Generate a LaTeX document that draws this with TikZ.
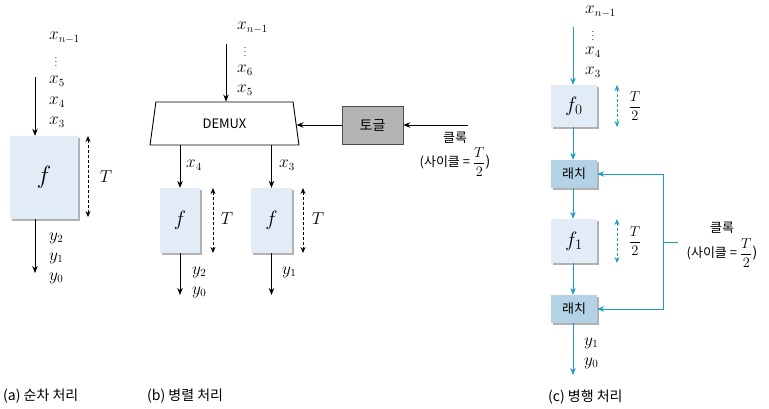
\documentclass[tikz,border=0pt]{standalone}
\usepackage{amsmath}
\usepackage{fontspec}
\newfontfamily\kr{Noto Sans CJK KR}
\setsansfont{Noto Sans CJK KR}
\usetikzlibrary{arrows.meta,shapes.geometric,shadows}
\definecolor{fblue}{HTML}{E1ECF6}
\definecolor{lblue}{HTML}{B3D2E6}
\definecolor{tgray}{HTML}{B4B4B4}
\definecolor{teal2}{HTML}{1F9CC4}
\begin{document}
\begin{tikzpicture}[x=1pt,y=-1pt,
  arr/.style={-{Stealth[length=7pt,width=5.5pt]}, line width=0.8pt},
  darr/.style={{Stealth[length=6pt,width=5pt]}-{Stealth[length=6pt,width=5pt]}, dash pattern=on 3pt off 2pt, line width=0.8pt},
  shad/.style={drop shadow={shadow xshift=1.5pt, shadow yshift=-1.5pt, opacity=0.3, fill=black}},
  fbox/.style={rectangle, fill=fblue, shad, inner sep=0pt},
  latchbox/.style={rectangle, fill=lblue, shad, inner sep=0pt, minimum width=46pt, minimum height=28pt, font=\kr\fontsize{13}{15}\selectfont},
  lbl/.style={anchor=west, inner sep=0pt, font=\fontsize{16}{18}\selectfont},
  dots/.style={inner sep=0pt, font=\fontsize{10}{11}\selectfont},
  tlabel/.style={inner sep=0pt, font=\fontsize{16}{18}\selectfont},
  hlabel/.style={inner sep=0pt, font=\fontsize{14}{16}\selectfont},
  krt/.style={inner sep=0pt, font=\kr\fontsize{13}{15}\selectfont},
  captxt/.style={anchor=west, inner sep=0pt, font=\kr\fontsize{14}{16}\selectfont},
  tealc/.style={teal2}
]
\useasboundingbox (0,0) rectangle (769,408);

% ---------- (a) ----------
\node[fbox, minimum width=68pt, minimum height=83pt, font=\fontsize{26}{28}\selectfont] (fa) at (44,177.5) {$f$};
\coordinate (ina) at (35,77);
\coordinate (outa) at (35,273);
\draw[arr] (ina) -- (ina |- fa.north);
\draw[arr] (outa |- fa.south) -- (outa);
\node[lbl] (a1) at (49,38) {$x_{n-1}$};
\node[dots] (a2) at (56,59) {$\vdots$};
\node[lbl] (a3) at (49,81) {$x_5$};
\node[lbl] (a4) at (49,102) {$x_4$};
\node[lbl] (a5) at (49,122) {$x_3$};
\node[lbl] (a6) at (49,238) {$y_2$};
\node[lbl] (a7) at (49,258) {$y_1$};
\node[lbl] (a8) at (49,278) {$y_0$};
\coordinate (ta1) at (88,136);
\coordinate (ta2) at (88,217);
\draw[darr] (ta1) -- (ta2);
\node[tlabel] (tA) at (106,177) {$T$};

% ---------- (b) ----------
\node[trapezium, draw, line width=0.9pt, trapezium angle=79, trapezium stretches=true,
      minimum width=149pt, minimum height=43pt, inner sep=0pt,
      font=\sffamily\fontsize{13}{15}\selectfont] (demux) at (224.5,123.5) {DEMUX};
\node[rectangle, draw=black!70, fill=tgray, line width=0.6pt, minimum width=61pt, minimum height=38pt,
      font=\kr\fontsize{14}{16}\selectfont] (tog) at (372.5,125) {토글};
\coordinate (clkb) at (468,125);
\draw[arr] (clkb) -- (tog.east);
\draw[arr] (tog.west) -- (tog.west -| demux.east);
\node[krt] (kb1) at (455,138) {클록};
\node[krt] (kb2) at (455,162) {(사이클 = \fontsize{14}{16}\selectfont$\dfrac{T}{2}$)};
\coordinate (inb) at (226,44);
\draw[arr] (inb) -- (inb |- demux.north);
\node[lbl] (b1) at (237,28) {$x_{n-1}$};
\node[dots] (b2) at (245,49) {$\vdots$};
\node[lbl] (b3) at (237,70) {$x_6$};
\node[lbl] (b4) at (237,90) {$x_5$};
\node[fbox, minimum width=40pt, minimum height=65pt, font=\fontsize{22}{24}\selectfont] (fb1) at (180,220.5) {$f$};
\node[fbox, minimum width=41pt, minimum height=65pt, font=\fontsize{22}{24}\selectfont] (fb2) at (271.5,220.5) {$f$};
\draw[arr] (fb1.north |- demux.south) -- (fb1.north);
\draw[arr] (fb2.north |- demux.south) -- (fb2.north);
\node[lbl] (b5) at (186,165) {$x_4$};
\node[lbl] (b6) at (279,165) {$x_3$};
\coordinate (tb1) at (213,188);
\coordinate (tb2) at (213,253);
\coordinate (tb3) at (303,188);
\coordinate (tb4) at (303,253);
\draw[darr] (tb1) -- (tb2);
\draw[darr] (tb3) -- (tb4);
\node[tlabel] (tB1) at (227,219) {$T$};
\node[tlabel] (tB2) at (318,219) {$T$};
\coordinate (ob1) at (180,295);
\coordinate (ob2) at (271.5,295);
\draw[arr] (fb1.south) -- (ob1);
\draw[arr] (fb2.south) -- (ob2);
\node[lbl] (b7) at (192,272) {$y_2$};
\node[lbl] (b8) at (192,292) {$y_0$};
\node[lbl] (b9) at (282,272) {$y_1$};

% ---------- (c) ----------
\node[fbox, minimum width=46pt, minimum height=42pt, font=\fontsize{22}{24}\selectfont] (f0) at (574,106) {$f_0$};
\node[latchbox] (l1) at (574,174) {래치};
\node[fbox, minimum width=46pt, minimum height=44pt, font=\fontsize{22}{24}\selectfont] (f1) at (574,241) {$f_1$};
\node[latchbox] (l2) at (574,309) {래치};
\coordinate (inc) at (573,27);
\coordinate (outc) at (573,375);
\draw[arr, tealc] (inc) -- (f0.north -| inc);
\draw[arr, tealc] (f0.south -| inc) -- (l1.north -| inc);
\draw[arr, tealc] (l1.south -| inc) -- (f1.north -| inc);
\draw[arr, tealc] (f1.south -| inc) -- (l2.north -| inc);
\draw[arr, tealc] (l2.south -| inc) -- (outc);
\node[lbl] (c1) at (585,12) {$x_{n-1}$};
\node[dots] (c2) at (593,33) {$\vdots$};
\node[lbl] (c3) at (585,52) {$x_4$};
\node[lbl] (c4) at (585,72) {$x_3$};
\coordinate (tc1) at (617,85);
\coordinate (tc2) at (617,127);
\coordinate (tc3) at (617,219);
\coordinate (tc4) at (617,263);
\draw[darr, tealc] (tc1) -- (tc2);
\draw[darr, tealc] (tc3) -- (tc4);
\node[hlabel] (tC1) at (635,106) {$\dfrac{T}{2}$};
\node[hlabel] (tC2) at (635,241) {$\dfrac{T}{2}$};
\coordinate (cs) at (678,242);
\coordinate (cv) at (663,242);
\draw[tealc, line width=0.8pt] (cs) -- (cv);
\draw[arr, tealc] (cv) |- (l1.east);
\draw[arr, tealc] (cv) |- (l2.east);
\node[krt] (kc1) at (722,228) {클록};
\node[krt] (kc2) at (722,253) {(사이클 = \fontsize{14}{16}\selectfont$\dfrac{T}{2}$)};
\node[lbl] (c5) at (584,343) {$y_1$};
\node[lbl] (c6) at (584,363) {$y_0$};

% ---------- captions ----------
\node[captxt] (capa) at (3,396) {(a) 순차 처리};
\node[captxt] (capb) at (147,396) {(b) 병렬 처리};
\node[captxt] (capc) at (548,397) {(c) 병행 처리};
\end{tikzpicture}
\end{document}
